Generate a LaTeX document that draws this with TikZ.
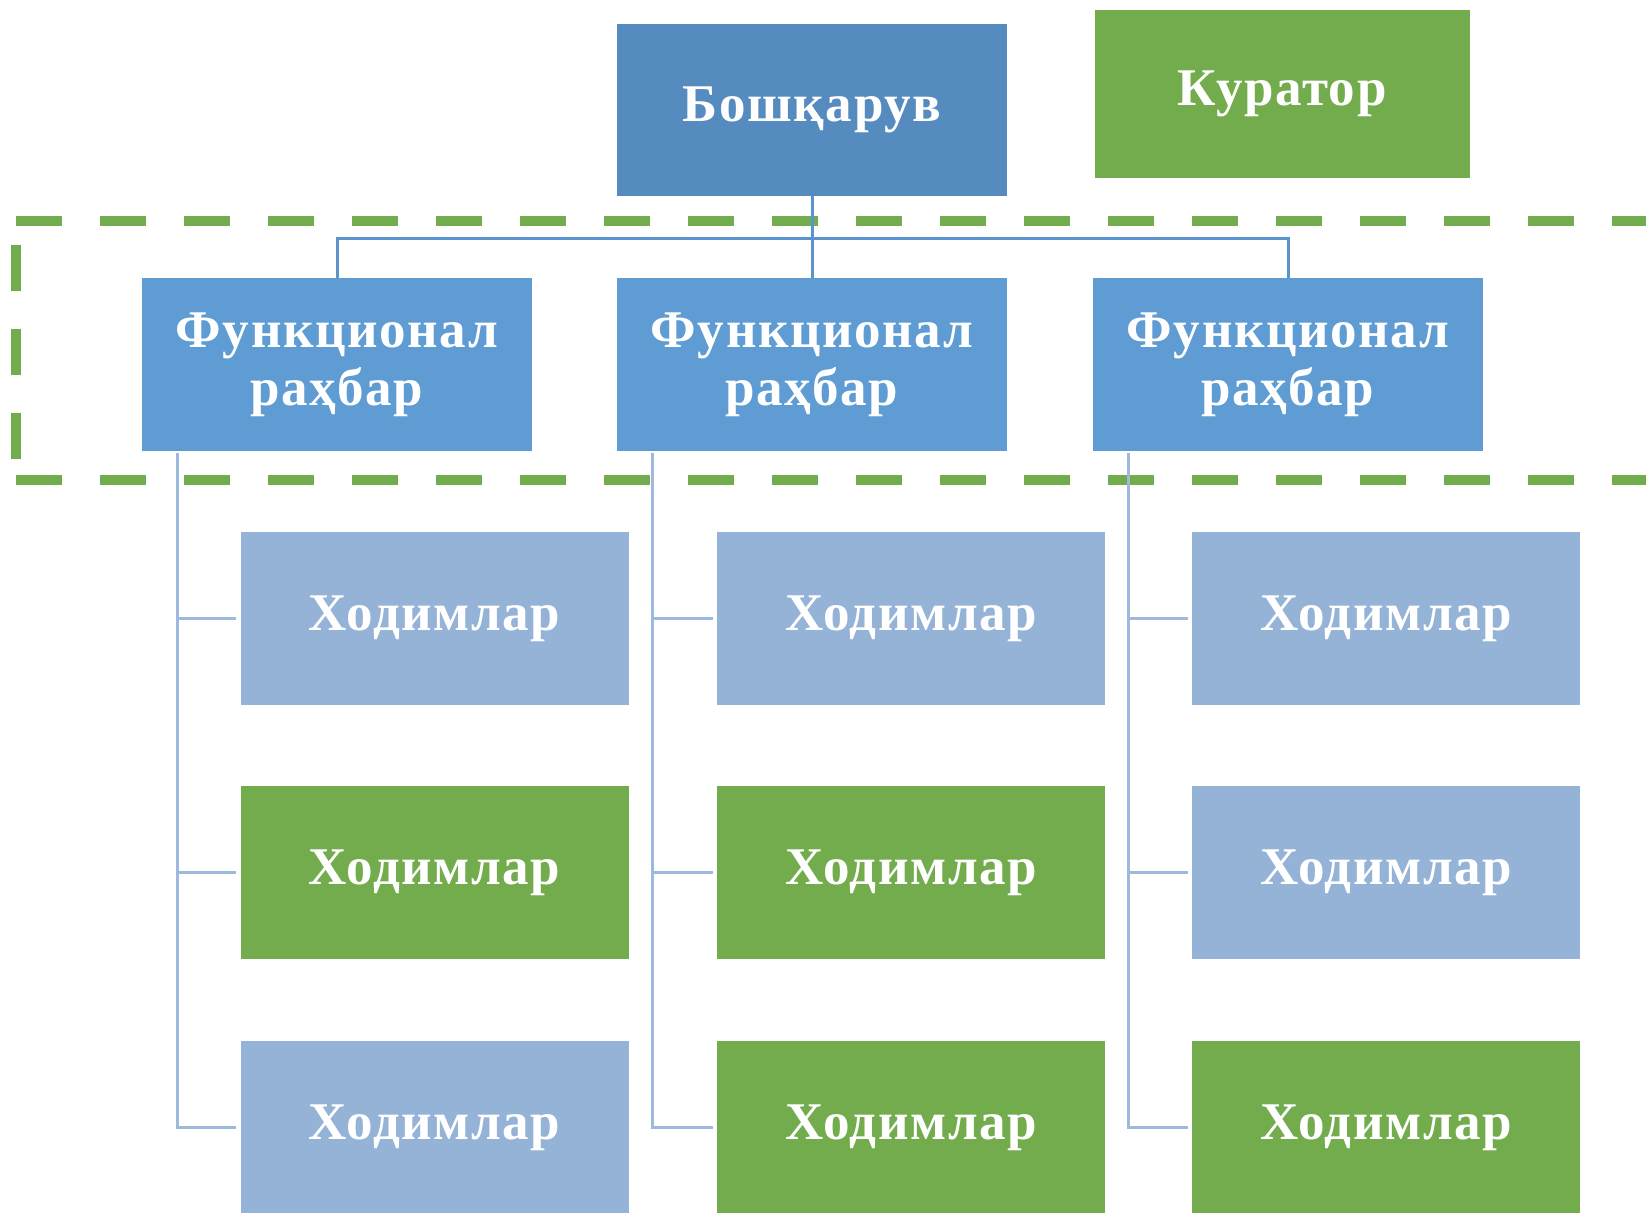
\documentclass[tikz,border=0pt]{standalone}
\usepackage{fontspec}
\setmainfont{Liberation Serif}[LetterSpace=3]
\definecolor{bossblue}{HTML}{558BBF}
\definecolor{midblue}{HTML}{5E9CD3}
\definecolor{lightblue}{HTML}{95B3D7}
\definecolor{leafgreen}{HTML}{72AC4D}
\definecolor{linkblue}{HTML}{5B93CF}
\definecolor{linklight}{HTML}{9DB9DE}
\begin{document}
\begin{tikzpicture}[x=0.5pt, y=-0.5pt,
  box/.style={draw=none, text=white, align=center, inner sep=0pt,
    font=\fontsize{26.5}{29}\selectfont\bfseries},
  headbox/.style={box, fill=bossblue, minimum width=195pt, minimum height=86pt},
  curbox/.style={box, fill=leafgreen, minimum width=187.5pt, minimum height=84pt},
  chiefbox/.style={box, fill=midblue, minimum width=195pt, minimum height=86.5pt},
  staffblue/.style={box, fill=lightblue, minimum width=194pt, minimum height=86.5pt},
  staffgreen/.style={box, fill=leafgreen, minimum width=194pt, minimum height=86.5pt},
  toplink/.style={draw=linkblue, line width=1.5pt},
  sublink/.style={draw=linklight, line width=1.5pt},
  zone/.style={draw=leafgreen, line width=5pt, dash pattern=on 23pt off 19pt}]
\useasboundingbox (0,0) rectangle (1646,1212);
\clip (0,0) rectangle (1646,1212);
% Zone
\draw[zone] (16,221) -- (1700,221) (16,480) -- (1700,480) (16,245) -- (16,460);
% Boshqaruv va kurator
\node[headbox] (bosh) at (812,110) {Бошқарув};
\node[curbox] (kurator) at (1282,94) {Куратор};
% Rahbarlar
\node[chiefbox] (rahbar1) at (337,364.5) {Функционал\\раҳбар};
\node[chiefbox] (rahbar2) at (812,364.5) {Функционал\\раҳбар};
\node[chiefbox] (rahbar3) at (1288,364.5) {Функционал\\раҳбар};
% Ulanishlar
\coordinate (bar) at (812,238);
\draw[toplink] (bosh.south) -- (rahbar2.north);
\draw[toplink] (rahbar1.north) |- (bar) -| (rahbar3.north);
% Xodimlar
\node[staffblue]  (xodim11) at (434.5,618.5) {Ходимлар};
\node[staffgreen] (xodim12) at (434.5,872.5) {Ходимлар};
\node[staffblue]  (xodim13) at (434.5,1127.5) {Ходимлар};
\node[staffblue]  (xodim21) at (911,618.5) {Ходимлар};
\node[staffgreen] (xodim22) at (911,872.5) {Ходимлар};
\node[staffgreen] (xodim23) at (911,1127.5) {Ходимлар};
\node[staffblue]  (xodim31) at (1386,618.5) {Ходимлар};
\node[staffblue]  (xodim32) at (1386,872.5) {Ходимлар};
\node[staffgreen] (xodim33) at (1386,1127.5) {Ходимлар};
% Chiziqlar
\foreach \i in {1,2,3}{
  \coordinate (spine\i) at ([xshift=18pt]rahbar\i.south west);
  \draw[sublink] ([yshift=-1pt]spine\i) |- ([xshift=-2pt]xodim\i3.west);
  \draw[sublink] ([xshift=-2pt]xodim\i1.west) -- (xodim\i1.west -| spine\i);
  \draw[sublink] ([xshift=-2pt]xodim\i2.west) -- (xodim\i2.west -| spine\i);
}
\end{tikzpicture}
\end{document}
